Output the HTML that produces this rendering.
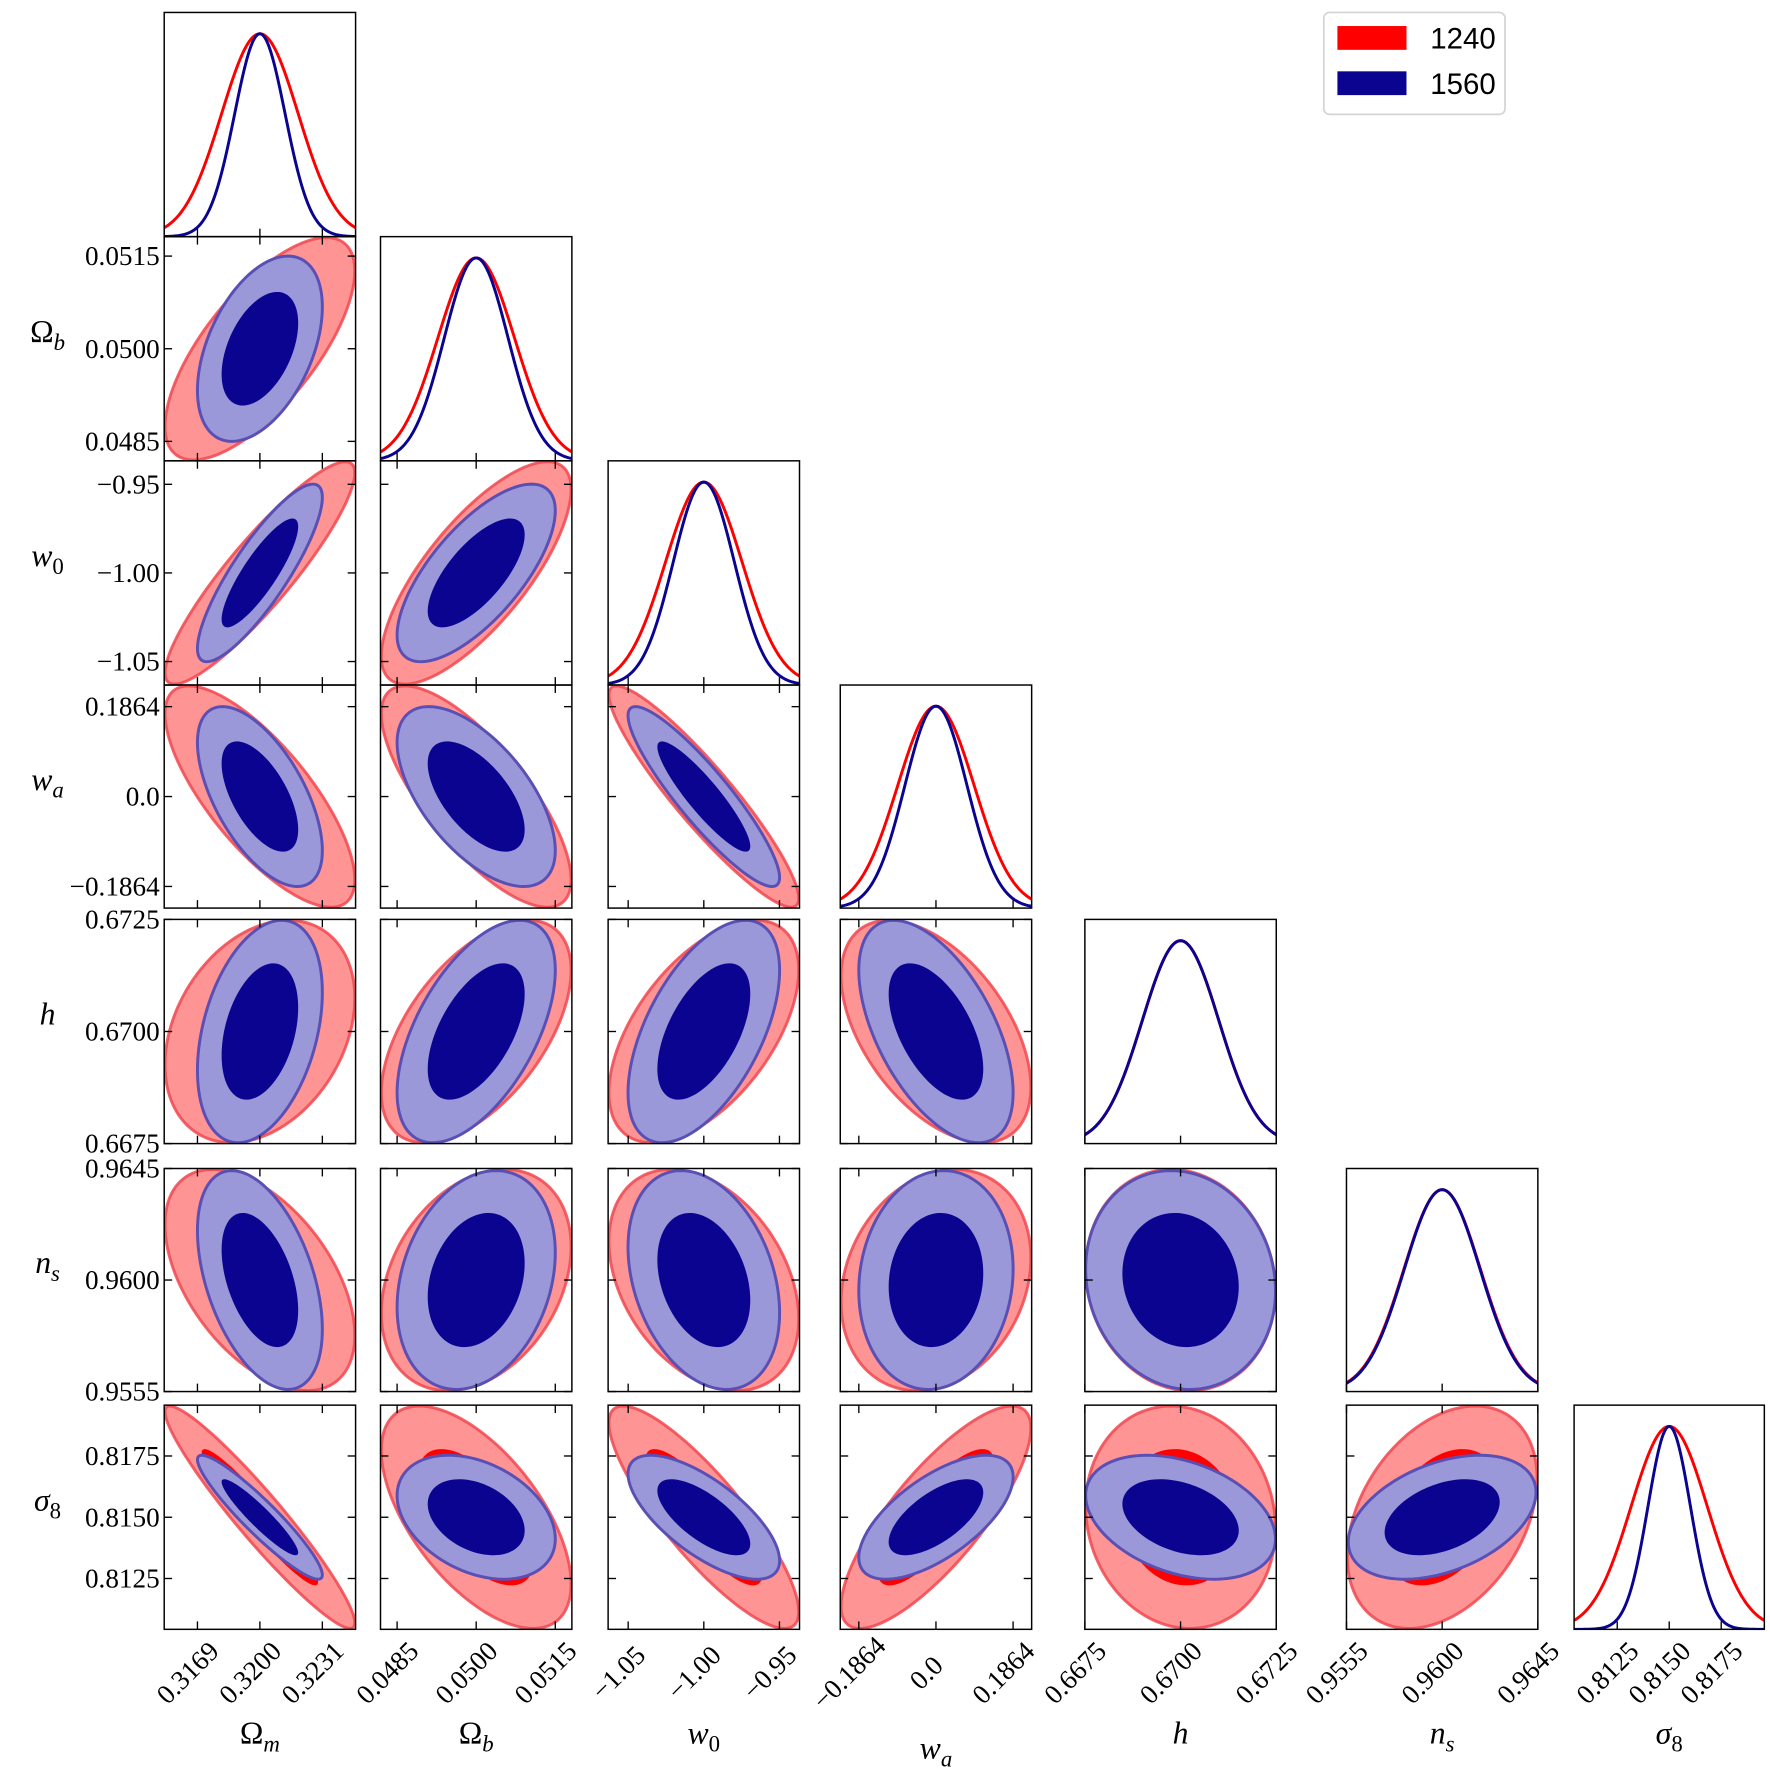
<!DOCTYPE html>
<html><head><meta charset="utf-8"><style>
html,body{margin:0;padding:0;background:#fff;}
svg{display:block;}
</style></head><body>
<svg id="chart" xmlns="http://www.w3.org/2000/svg" width="1770" height="1772" viewBox="0 0 1563 1565" preserveAspectRatio="none" font-family="'Liberation Serif', serif">
<g id="panels"></g>
<g id="legend">
  <rect x="1169" y="11" width="160" height="90" rx="5" fill="#fff" stroke="#d4d4d4" stroke-width="1.5"/>
  <rect x="1181" y="23" width="61" height="21" fill="#ff0000"/>
  <text x="1263" y="43" font-family="'Liberation Sans', sans-serif" font-size="26">1240</text>
  <rect x="1181" y="63" width="61" height="21" fill="#0b0490"/>
  <text x="1263" y="83" font-family="'Liberation Sans', sans-serif" font-size="26">1560</text>
</g>
</svg>
<script>
const paramMeans = [0.32, 0.05, -1.0, 0.0, 0.67, 0.96, 0.815];
const sigma1240 = [0.0019, 0.000726, 0.0253, 0.0925, 0.001, 0.0018, 0.00183];
const sigma1560 = [0.00125, 0.000605, 0.0202, 0.0752, 0.001, 0.00178, 0.00102];
const corr1240 = [[], [0.7], [0.9, 0.75], [-0.75, -0.75, -0.92], [0.3, 0.55, 0.55, -0.5], [-0.5, 0.3, -0.35, 0.2, -0.1], [-0.95, -0.6, -0.85, 0.8, -0.1, 0.35]];
const corr1560 = [[], [0.45], [0.85, 0.7], [-0.6, -0.6, -0.9], [0.35, 0.55, 0.55, -0.55], [-0.45, 0.25, -0.3, 0.1, -0.1], [-0.93, -0.35, -0.7, 0.65, -0.35, 0.4]];
const tickValues = [[0.3169, 0.32, 0.3231], [0.0485, 0.05, 0.0515], [-1.05, -1.0, -0.95], [-0.1864, 0, 0.1864], [0.6675, 0.67, 0.6725], [0.9555, 0.96, 0.9645], [0.8125, 0.815, 0.8175]];
const tickLabels = [["0.3169", "0.3200", "0.3231"], ["0.0485", "0.0500", "0.0515"], ["\u22121.05", "\u22121.00", "\u22120.95"], ["\u22120.1864", "0.0", "0.1864"], ["0.6675", "0.6700", "0.6725"], ["0.9555", "0.9600", "0.9645"], ["0.8125", "0.8150", "0.8175"]];
const paramSymbols = [["\u03A9", "m", false], ["\u03A9", "b", false], ["w", "0", true], ["w", "a", true], ["h", "", true], ["n", "s", true], ["\u03C3", "8", true]];
const paramSlugs = ["omega-m", "omega-b", "w0", "wa", "h", "ns", "sigma8"];

const cols = [[145, 314], [336, 505], [537, 706], [742, 911], [958, 1127], [1189, 1358], [1390, 1558]];
const rows = [[11, 209], [209, 407], [407, 605], [605, 802], [812, 1010], [1032, 1229], [1241, 1439]];
const NS = "http://www.w3.org/2000/svg";
const root = document.getElementById("panels");
function mk(tag, attrs, parent) {
  const e = document.createElementNS(NS, tag);
  for (const k in attrs) e.setAttribute(k, attrs[k]);
  (parent || root).appendChild(e);
  return e;
}
function halfRange(p) { return 2.5 * sigma1240[p]; }
function xScale(p, c) { const h = halfRange(p), m = paramMeans[p]; return v => cols[c][0] + (v - (m - h)) / (2 * h) * (cols[c][1] - cols[c][0]); }
function yScale(p, r) { const h = halfRange(p), m = paramMeans[p]; return v => rows[r][1] - (v - (m - h)) / (2 * h) * (rows[r][1] - rows[r][0]); }
const K1 = 1.52, K2 = 2.48;
const TL = 7;

function ellipsePath(px, py, sx, sy, rho, k, fx, fy) {
  let d = "";
  const s = Math.sqrt(1 - rho * rho);
  for (let i = 0; i <= 120; i++) {
    const t = i / 120 * 2 * Math.PI;
    const x = paramMeans[px] + k * sx * Math.cos(t);
    const y = paramMeans[py] + k * sy * (rho * Math.cos(t) + s * Math.sin(t));
    d += (i ? "L" : "M") + fx(x).toFixed(2) + "," + fy(y).toFixed(2);
  }
  return d + "Z";
}
function label(x, y, p, size, parent, anchor) {
  const sym = paramSymbols[p];
  const t = mk("text", { x: x, y: y, "font-size": size, "text-anchor": anchor || "middle" }, parent);
  const a = mk("tspan", { "font-style": sym[2] ? "italic" : "normal" }, t);
  a.textContent = sym[0];
  if (sym[1]) {
    const b = mk("tspan", { "font-size": size * 0.72, dy: size * 0.25, "font-style": /[0-9]/.test(sym[1]) ? "normal" : "italic" }, t);
    b.textContent = sym[1];
  }
  return t;
}

let clipId = 0;
for (let r = 0; r < 7; r++) {
  for (let c = 0; c <= r; c++) {
    const g = mk("g", {});
    
    
    const x0 = cols[c][0], x1 = cols[c][1], y0 = rows[r][0], y1 = rows[r][1];
    const cp = mk("clipPath", { id: "cp" + clipId }, g);
    mk("rect", { x: x0, y: y0, width: x1 - x0, height: y1 - y0 }, cp);
    const inner = mk("g", { "clip-path": "url(#cp" + clipId + ")" }, g);
    clipId++;
    const fx = xScale(c, c);
    if (c === r) {
      const sets = [[sigma1240, "#ff0000", "1240"], [sigma1560, "#0b0490", "1560"]];
      for (const [sig, col, nm] of sets) {
        let d = "";
        const h = halfRange(c);
        for (let i = 0; i <= 200; i++) {
          const v = paramMeans[c] - h + 2 * h * i / 200;
          const z = (v - paramMeans[c]) / sig[c];
          const py = y1 - Math.exp(-0.5 * z * z) * 0.905 * (y1 - y0);
          d += (i ? "L" : "M") + fx(v).toFixed(2) + "," + py.toFixed(2);
        }
        const path = mk("path", { d: d, fill: "none", stroke: col, "stroke-width": 2.6 }, inner);
        
        
      }
    } else {
      const fy = yScale(r, r);
      const rR = corr1240[r][c], rB = corr1560[r][c];
      const e1 = mk("path", { d: ellipsePath(c, r, sigma1240[c], sigma1240[r], rR, K2, fx, fy), fill: "#ff9494", stroke: "#f2474f", "stroke-width": 2.6, "stroke-opacity": 0.85 }, inner);
      
      
      const e2 = mk("path", { d: ellipsePath(c, r, sigma1240[c], sigma1240[r], rR, K1, fx, fy), fill: "#ff0000" }, inner);
      
      
      const e3 = mk("path", { d: ellipsePath(c, r, sigma1560[c], sigma1560[r], rB, K2, fx, fy), fill: "#9a98d8", stroke: "#5a4fb4", "stroke-width": 2.6 }, inner);
      
      
      const e4 = mk("path", { d: ellipsePath(c, r, sigma1560[c], sigma1560[r], rB, K1, fx, fy), fill: "#0b0490" }, inner);
      
      
      for (const v of tickValues[r]) {
        const ty = fy(v);
        mk("line", { x1: x0, x2: x0 + TL, y1: ty, y2: ty, stroke: "#000", "stroke-width": 1.2 }, g);
        mk("line", { x1: x1 - TL, x2: x1, y1: ty, y2: ty, stroke: "#000", "stroke-width": 1.2 }, g);
      }
      for (const v of tickValues[c]) {
        const tx = fx(v);
        mk("line", { x1: tx, x2: tx, y1: y0, y2: y0 + TL, stroke: "#000", "stroke-width": 1.2 }, g);
      }
    }
    for (const v of tickValues[c]) {
      const tx = fx(v);
      mk("line", { x1: tx, x2: tx, y1: y1 - TL, y2: y1, stroke: "#000", "stroke-width": 1.2 }, g);
    }
    const fr = mk("rect", { x: x0, y: y0, width: x1 - x0, height: y1 - y0, fill: "none", stroke: "#000", "stroke-width": 1.3 }, g);
    
    
  }
}

for (let r = 1; r < 7; r++) {
  const fy = yScale(r, r);
  for (let i = 0; i < 3; i++) {
    const t = mk("text", { x: 141, y: fy(tickValues[r][i]) + 8, "font-size": 24, "text-anchor": "end" });
    t.textContent = tickLabels[r][i];
    
    
  }
  const yl = label(42, (rows[r][0] + rows[r][1]) / 2 - 6, r, 28);
  
  
}
for (let c = 0; c < 7; c++) {
  const fx = xScale(c, c);
  const yb = rows[6][1];
  for (let i = 0; i < 3; i++) {
    const tx = fx(tickValues[c][i]);
    const t = mk("text", { x: 0, y: 0, "font-size": 24, "text-anchor": "middle", transform: "translate(" + (tx - 3) + "," + (yb + 44) + ") rotate(-45)" });
    t.textContent = tickLabels[c][i];
    
    
  }
  const xl = label((cols[c][0] + cols[c][1]) / 2, c === 3 ? 1553 : 1540, c, 28);
  
  
}
</script>
</body></html>
